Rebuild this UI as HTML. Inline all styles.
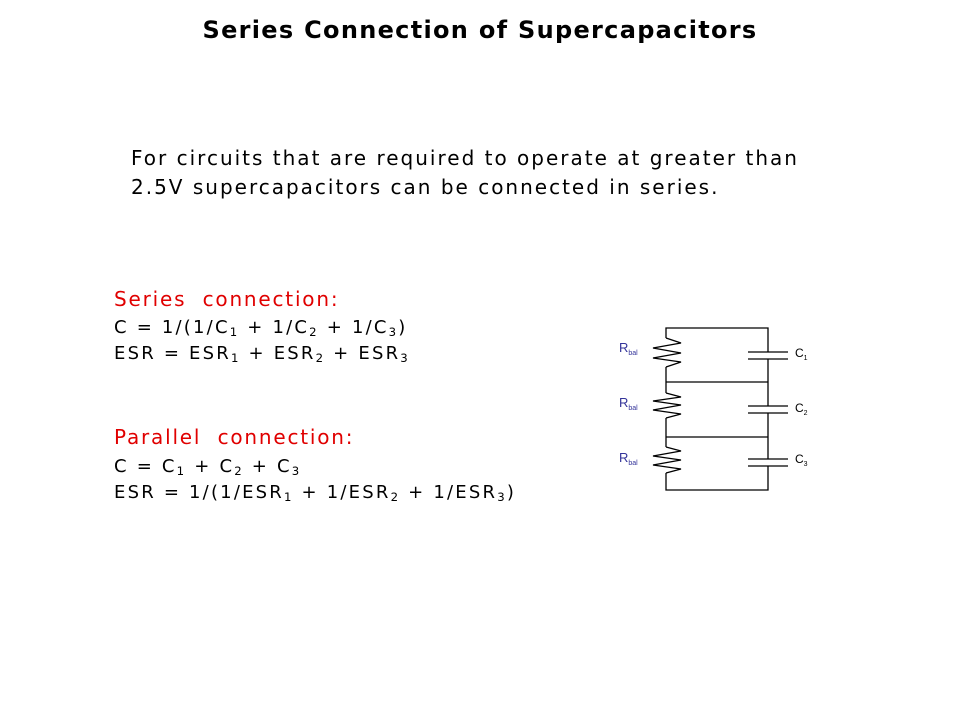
<!DOCTYPE html>
<html><head><meta charset="utf-8"><style>
body{margin:0;width:960px;height:720px;background:#fff;position:relative;overflow:hidden;font-family:"DejaVu Sans","Liberation Sans",sans-serif;color:#000}
.a{position:absolute;white-space:nowrap}
sub{font-size:65%;vertical-align:-0.25em;line-height:0}
.r{color:#e00000}
</style></head><body>
<div class="a" style="left:0;width:960px;text-align:center;top:16px;font-size:24px;font-weight:bold;letter-spacing:1.3px">Series Connection of Supercapacitors</div>
<div class="a" style="left:131px;top:144px;font-size:20px;line-height:29px;letter-spacing:2px">For circuits that are required to operate at greater than<br>2.5V supercapacitors can be connected in series.</div>
<div class="a r" style="left:114px;top:287px;font-size:20px;letter-spacing:1.8px">Series&nbsp; connection:</div>
<div class="a" style="left:114px;top:315px;font-size:18px;line-height:26px;letter-spacing:2.2px">C = 1/(1/C<sub>1</sub> + 1/C<sub>2</sub> + 1/C<sub>3</sub>)<br>ESR = ESR<sub>1</sub> + ESR<sub>2</sub> + ESR<sub>3</sub></div>
<div class="a r" style="left:114px;top:425px;font-size:20px;letter-spacing:1.8px">Parallel&nbsp; connection:</div>
<div class="a" style="left:114px;top:454px;font-size:18px;line-height:26px;letter-spacing:2.2px">C = C<sub>1</sub> + C<sub>2</sub> + C<sub>3</sub><br>ESR = 1/(1/ESR<sub>1</sub> + 1/ESR<sub>2</sub> + 1/ESR<sub>3</sub>)</div>
<svg class="a" style="left:0;top:0" width="960" height="720" viewBox="0 0 960 720">
<g fill="none" stroke="#000" stroke-width="1.3">
<path d="M666 338 V328 H768 V352 M768 359 V406 M768 413 V459 M768 466 V490 H666 V473"/>
<path d="M666 367 V382 H768 M666 382 V393 M666 418 V437 H768 M666 437 V447"/>
<path d="M666 338 L681 343 L653 348 L681 353 L653 358 L681 362 L666 367"/>
<path d="M666 393 L681 397 L653 401 L681 405 L653 410 L681 414 L666 418"/>
<path d="M666 447 L681 451 L653 456 L681 460 L653 465 L681 469 L666 473"/>
<path d="M748 352 H788 M748 359 H788 M748 406 H788 M748 413 H788 M748 459 H788 M748 466 H788"/>
</g>
<g font-family="Liberation Sans, sans-serif" font-size="13" fill="#333399">
<text x="619" y="352">R<tspan font-size="7" dy="3">bal</tspan></text>
<text x="619" y="407">R<tspan font-size="7" dy="3">bal</tspan></text>
<text x="619" y="462">R<tspan font-size="7" dy="3">bal</tspan></text>
</g>
<g font-family="Liberation Sans, sans-serif" font-size="12" fill="#000">
<text x="795" y="357">C<tspan font-size="7" dy="3">1</tspan></text>
<text x="795" y="412">C<tspan font-size="7" dy="3">2</tspan></text>
<text x="795" y="463">C<tspan font-size="7" dy="3">3</tspan></text>
</g>
</svg>
</body></html>
